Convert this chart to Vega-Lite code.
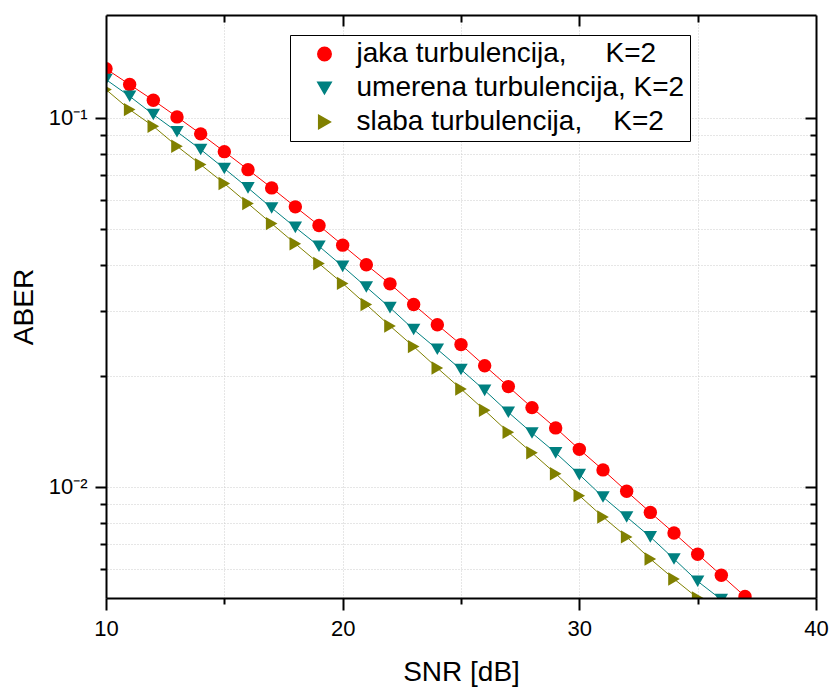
{
  "$schema": "https://vega.github.io/schema/vega-lite/v6.json",
  "width": 710,
  "height": 583,
  "autosize": "none",
  "padding": {"left": 106, "top": 15, "right": 15, "bottom": 89},
  "background": "white",
  "config": {
    "view": {"stroke": null},
    "font": "Liberation Sans",
    "axis": {
      "domainColor": "black",
      "domainWidth": 2,
      "tickColor": "black",
      "tickWidth": 2,
      "labelColor": "black",
      "labelFont": "Liberation Sans",
      "labelFontSize": 22,
      "titleFont": "Liberation Sans",
      "titleFontSize": 28,
      "titleFontWeight": "normal",
      "titleColor": "black",
      "labelFlush": false,
      "labelOverlap": false,
      "gridColor": "#cccccc",
      "gridDash": [1, 2],
      "gridWidth": 1
    },
    "legend": {
      "orient": "none",
      "legendX": 184,
      "legendY": 20,
      "labelFont": "Liberation Sans",
      "labelFontSize": 28,
      "labelColor": "black",
      "labelLimit": 500,
      "symbolSize": 180,
      "symbolOffset": 15.5,
      "labelOffset": 18,
      "rowPadding": 6,
      "padding": 5,
      "strokeColor": "black",
      "strokeWidth": 1,
      "fillColor": "white",
      "cornerRadius": 0
    }
  },
  "data": {
    "values": [
      {"snr": 10, "aber": 0.1358, "s": "jaka"},
      {"snr": 11, "aber": 0.1231, "s": "jaka"},
      {"snr": 12, "aber": 0.1116, "s": "jaka"},
      {"snr": 13, "aber": 0.1006, "s": "jaka"},
      {"snr": 14, "aber": 0.0905, "s": "jaka"},
      {"snr": 15, "aber": 0.0810, "s": "jaka"},
      {"snr": 16, "aber": 0.0724, "s": "jaka"},
      {"snr": 17, "aber": 0.0646, "s": "jaka"},
      {"snr": 18, "aber": 0.0574, "s": "jaka"},
      {"snr": 19, "aber": 0.0511, "s": "jaka"},
      {"snr": 20, "aber": 0.0452, "s": "jaka"},
      {"snr": 21, "aber": 0.0400, "s": "jaka"},
      {"snr": 22, "aber": 0.0355, "s": "jaka"},
      {"snr": 23, "aber": 0.0312, "s": "jaka"},
      {"snr": 24, "aber": 0.0275, "s": "jaka"},
      {"snr": 25, "aber": 0.0243, "s": "jaka"},
      {"snr": 26, "aber": 0.0213, "s": "jaka"},
      {"snr": 27, "aber": 0.0187, "s": "jaka"},
      {"snr": 28, "aber": 0.0164, "s": "jaka"},
      {"snr": 29, "aber": 0.01445, "s": "jaka"},
      {"snr": 30, "aber": 0.01264, "s": "jaka"},
      {"snr": 31, "aber": 0.01112, "s": "jaka"},
      {"snr": 32, "aber": 0.00973, "s": "jaka"},
      {"snr": 33, "aber": 0.00853, "s": "jaka"},
      {"snr": 34, "aber": 0.00750, "s": "jaka"},
      {"snr": 35, "aber": 0.00657, "s": "jaka"},
      {"snr": 36, "aber": 0.00576, "s": "jaka"},
      {"snr": 37, "aber": 0.00505, "s": "jaka"},
      {"snr": 10, "aber": 0.1270, "s": "umerena"},
      {"snr": 11, "aber": 0.1144, "s": "umerena"},
      {"snr": 12, "aber": 0.1021, "s": "umerena"},
      {"snr": 13, "aber": 0.0917, "s": "umerena"},
      {"snr": 14, "aber": 0.0821, "s": "umerena"},
      {"snr": 15, "aber": 0.0729, "s": "umerena"},
      {"snr": 16, "aber": 0.0646, "s": "umerena"},
      {"snr": 17, "aber": 0.0570, "s": "umerena"},
      {"snr": 18, "aber": 0.0505, "s": "umerena"},
      {"snr": 19, "aber": 0.0449, "s": "umerena"},
      {"snr": 20, "aber": 0.0396, "s": "umerena"},
      {"snr": 21, "aber": 0.0348, "s": "umerena"},
      {"snr": 22, "aber": 0.0306, "s": "umerena"},
      {"snr": 23, "aber": 0.0267, "s": "umerena"},
      {"snr": 24, "aber": 0.0236, "s": "umerena"},
      {"snr": 25, "aber": 0.0208, "s": "umerena"},
      {"snr": 26, "aber": 0.01827, "s": "umerena"},
      {"snr": 27, "aber": 0.01593, "s": "umerena"},
      {"snr": 28, "aber": 0.01400, "s": "umerena"},
      {"snr": 29, "aber": 0.01237, "s": "umerena"},
      {"snr": 30, "aber": 0.01080, "s": "umerena"},
      {"snr": 31, "aber": 0.00939, "s": "umerena"},
      {"snr": 32, "aber": 0.00829, "s": "umerena"},
      {"snr": 33, "aber": 0.00732, "s": "umerena"},
      {"snr": 34, "aber": 0.00638, "s": "umerena"},
      {"snr": 35, "aber": 0.00555, "s": "umerena"},
      {"snr": 36, "aber": 0.00495, "s": "umerena"},
      {"snr": 10, "aber": 0.1193, "s": "slaba"},
      {"snr": 11, "aber": 0.1053, "s": "slaba"},
      {"snr": 12, "aber": 0.0949, "s": "slaba"},
      {"snr": 13, "aber": 0.0838, "s": "slaba"},
      {"snr": 14, "aber": 0.0747, "s": "slaba"},
      {"snr": 15, "aber": 0.0664, "s": "slaba"},
      {"snr": 16, "aber": 0.0586, "s": "slaba"},
      {"snr": 17, "aber": 0.0517, "s": "slaba"},
      {"snr": 18, "aber": 0.0456, "s": "slaba"},
      {"snr": 19, "aber": 0.0403, "s": "slaba"},
      {"snr": 20, "aber": 0.0356, "s": "slaba"},
      {"snr": 21, "aber": 0.0312, "s": "slaba"},
      {"snr": 22, "aber": 0.0273, "s": "slaba"},
      {"snr": 23, "aber": 0.0240, "s": "slaba"},
      {"snr": 24, "aber": 0.0210, "s": "slaba"},
      {"snr": 25, "aber": 0.01843, "s": "slaba"},
      {"snr": 26, "aber": 0.01613, "s": "slaba"},
      {"snr": 27, "aber": 0.01406, "s": "slaba"},
      {"snr": 28, "aber": 0.01237, "s": "slaba"},
      {"snr": 29, "aber": 0.01086, "s": "slaba"},
      {"snr": 30, "aber": 0.00947, "s": "slaba"},
      {"snr": 31, "aber": 0.00829, "s": "slaba"},
      {"snr": 32, "aber": 0.00732, "s": "slaba"},
      {"snr": 33, "aber": 0.00638, "s": "slaba"},
      {"snr": 34, "aber": 0.00563, "s": "slaba"},
      {"snr": 35, "aber": 0.00500, "s": "slaba"}
    ]
  },
  "layer": [
    {
      "mark": {"type": "line", "clip": true, "strokeWidth": 1},
      "encoding": {
        "x": {
          "field": "snr", "type": "quantitative",
          "scale": {"domain": [10, 40], "nice": false, "zero": false},
          "axis": {
            "orient": "bottom",
            "values": [10, 15, 20, 25, 30, 35, 40],
            "title": "SNR [dB]",
            "format": "d",
            "labelExpr": "datum.value % 10 === 0 ? datum.label : ''",
            "tickSize": {"condition": {"test": "datum.value % 10 === 0", "value": 12}, "value": 6},
            "labelPadding": 8,
            "titlePadding": 19,
            "grid": false,
            "zindex": 1
          }
        },
        "y": {
          "field": "aber", "type": "quantitative",
          "scale": {"type": "log", "domain": [0.005, 0.19], "nice": false},
          "axis": {
            "orient": "left",
            "values": [0.006, 0.007, 0.008, 0.009, 0.01, 0.02, 0.03, 0.04, 0.05, 0.06, 0.07, 0.08, 0.09, 0.1],
            "title": "ABER",
            "labelExpr": "datum.value === 0.1 ? '10⁻¹' : (datum.value === 0.01 ? '10⁻²' : '')",
            "tickSize": {"condition": {"test": "datum.value === 0.1 || datum.value === 0.01", "value": 11}, "value": 6},
            "labelPadding": 8,
            "titlePadding": 10,
            "grid": false,
            "zindex": 1
          }
        },
        "color": {
          "field": "s", "type": "nominal",
          "scale": {"domain": ["jaka", "umerena", "slaba"], "range": ["#ff0000", "#008080", "#808000"]},
          "legend": {
            "title": null,
            "labelExpr": "datum.value === 'jaka' ? 'jaka turbulencija,\u00a0\u00a0\u00a0\u00a0\u00a0K=2' : (datum.value === 'umerena' ? 'umerena turbulencija, K=2' : 'slaba turbulencija,\u00a0\u00a0\u00a0\u00a0K=2')"
          }
        }
      }
    },
    {
      "mark": {"type": "point", "filled": true, "clip": true, "size": 180, "opacity": 1},
      "encoding": {
        "x": {
          "field": "snr", "type": "quantitative",
          "axis": {
            "orient": "top",
            "values": [15, 20, 25, 30, 35],
            "labels": false,
            "title": null,
            "tickSize": {"condition": {"test": "datum.value % 10 === 0", "value": -11}, "value": -7},
            "grid": true,
            "zindex": 0
          }
        },
        "y": {
          "field": "aber", "type": "quantitative",
          "axis": {
            "orient": "right",
            "values": [0.006, 0.007, 0.008, 0.009, 0.01, 0.02, 0.03, 0.04, 0.05, 0.06, 0.07, 0.08, 0.09, 0.1],
            "labels": false,
            "title": null,
            "tickSize": {"condition": {"test": "datum.value === 0.1 || datum.value === 0.01", "value": -11}, "value": -6},
            "grid": true,
            "zindex": 0
          }
        },
        "color": {
          "field": "s", "type": "nominal",
          "scale": {"domain": ["jaka", "umerena", "slaba"], "range": ["#ff0000", "#008080", "#808000"]},
          "legend": {
            "title": null,
            "labelExpr": "datum.value === 'jaka' ? 'jaka turbulencija,\u00a0\u00a0\u00a0\u00a0\u00a0K=2' : (datum.value === 'umerena' ? 'umerena turbulencija, K=2' : 'slaba turbulencija,\u00a0\u00a0\u00a0\u00a0K=2')"
          }
        },
        "shape": {
          "field": "s", "type": "nominal",
          "scale": {"domain": ["jaka", "umerena", "slaba"], "range": ["circle", "M0,0.866L-1,-0.866L1,-0.866Z", "M0.866,0L-0.866,-1L-0.866,1Z"]},
          "legend": null
        }
      }
    }
  ],
  "resolve": {"axis": {"x": "independent", "y": "independent"}}
}
